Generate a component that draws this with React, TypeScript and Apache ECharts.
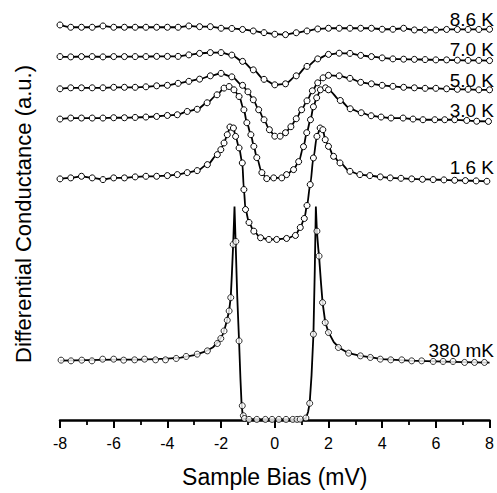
import React, { useEffect, useRef } from "react";
import * as echarts from "echarts";

const FONT = '"Liberation Sans", Arial, Helvetica, sans-serif';

// Bias grid (mV) used by the higher-temperature curves
const gridBias = [-8, -7.6, -7.2, -6.8, -6.4, -6, -5.6, -5.2, -4.8, -4.4, -4, -3.6, -3.2, -2.8, -2.4, -2, -1.6, -1.2, -0.8, -0.4, 0, 0.4, 0.8, 1.2, 1.6, 2, 2.4, 2.8, 3.2, 3.6, 4, 4.4, 4.8, 5.2, 5.6, 6, 6.4, 6.8, 7.2, 7.6, 8];

// Differential conductance (a.u., offset curves)
const cond86 = [396, 393.7, 393.7, 393.7, 395, 393.7, 393.7, 393.7, 393.7, 393.7, 393.7, 393.7, 395, 394.3, 394.3, 392.7, 392.5, 391.5, 390, 388.3, 386.7, 386.3, 388.2, 390, 392, 392.7, 392.7, 392.7, 392.7, 392.7, 391.7, 391.7, 392.7, 391, 391, 391, 391.5, 391.5, 391.5, 391.5, 391.7];
const cond70 = [364.3, 364, 364.3, 364.3, 364, 364.3, 364.3, 364.3, 364.3, 364.5, 364.5, 364.5, 366, 367.5, 368.3, 368.3, 365.8, 359.5, 351, 341.5, 336, 337, 345, 354.5, 362, 366.5, 367.7, 367.5, 365.5, 364.3, 363, 362, 361.7, 361.5, 361.3, 361, 361, 360.7, 360.5, 360.5, 360.3];

const bias50 = [-8, -7.6, -7.2, -6.8, -6.4, -6, -5.6, -5.2, -4.8, -4.4, -4, -3.6, -3.2, -2.8, -2.4, -2, -1.6, -1.2, -1, -0.8, -0.6, -0.4, -0.2, 0, 0.2, 0.4, 0.6, 0.8, 1, 1.2, 1.4, 1.6, 1.8, 2, 2.4, 2.8, 3.2, 3.6, 4, 4.4, 4.8, 5.2, 5.6, 6, 6.4, 6.8, 7.2, 7.6, 8];
const cond50 = [332, 333, 333, 333, 333, 333.5, 333.5, 333.5, 334, 335, 335.5, 337.5, 339.5, 341.7, 345, 347.5, 344, 335.5, 329, 321, 311, 301, 291, 284.5, 284.5, 288, 294, 302, 311, 320, 330, 338, 343, 345.5, 345, 342.5, 338.5, 337, 335.5, 334.5, 333.5, 333, 332.5, 332.5, 332, 331.5, 331.5, 331, 331];

const bias30 = [-8, -7.6, -7.2, -6.8, -6.4, -6, -5.6, -5.2, -4.8, -4.4, -4, -3.63, -3.26, -2.89, -2.52, -2.15, -1.89, -1.7, -1.52, -1.33, -1.15, -1.04, -0.89, -0.78, -0.67, -0.48, -0.3, -0.04, 0.26, 0.44, 0.7, 0.89, 1.07, 1.19, 1.33, 1.44, 1.56, 1.7, 1.89, 2, 2.44, 2.81, 3.22, 3.59, 3.96, 4.33, 4.78, 5.15, 5.52, 5.96, 6.33, 6.7, 7.15, 7.52, 7.96];
const cond30 = [301.7, 302.7, 302.7, 302.7, 302.7, 303, 303, 303.3, 303.7, 304.3, 305.3, 306, 309.3, 311.5, 318, 326, 332.7, 334.3, 331, 324.3, 311, 298, 286, 274.3, 263, 248, 242, 242.7, 242.7, 246, 251, 259, 274, 288, 301, 314, 323, 331, 333, 331, 320.3, 312, 308, 305, 303.7, 302.7, 302.7, 301.7, 301, 301, 301, 301, 300.3, 299.5, 299.3];

const bias16 = [-8, -7.6, -7.2, -6.8, -6.4, -6, -5.6, -5.2, -4.8, -4.4, -4, -3.63, -3.26, -2.89, -2.51, -2.14, -2.01, -1.89, -1.77, -1.67, -1.54, -1.46, -1.33, -1.21, -1.15, -1.09, -0.96, -0.78, -0.53, -0.22, 0.07, 0.44, 0.77, 0.95, 1.1, 1.2, 1.32, 1.44, 1.57, 1.69, 1.79, 1.88, 2, 2.19, 2.43, 2.8, 3.17, 3.54, 3.93, 4.3, 4.7, 5.1, 5.5, 5.9, 6.3, 6.7, 7.1, 7.5, 7.9];
const cond16 = [241.7, 242.7, 244.3, 242.7, 241, 242.7, 242.7, 243.7, 244.3, 244.3, 245, 246, 248, 250, 256, 266, 271, 277.7, 286, 293.7, 292.7, 284.3, 272.7, 257.7, 231, 211, 198, 189.3, 182.7, 181, 181, 182, 185, 193, 202, 215, 236, 262.7, 284.3, 292.7, 291, 281, 274.3, 264.3, 257.7, 249.3, 246, 245, 243.7, 242.7, 242.3, 241.7, 241.3, 241, 240.7, 240.3, 240, 239.7, 239.3];

// 380 mK: measured points
const bias038 = [-7.96, -7.59, -7.19, -6.81, -6.41, -6, -5.63, -5.22, -4.85, -4.44, -4.07, -3.67, -3.3, -2.89, -2.51, -2.14, -2.01, -1.89, -1.77, -1.7, -1.64, -1.55, -1.45, -1.33, -1.21, -1.17, -1.13, -0.96, -0.67, -0.35, -0.1, 0.15, 0.42, 0.67, 0.83, 0.95, 1.16, 1.3, 1.44, 1.57, 1.65, 1.78, 1.88, 2, 2.37, 2.75, 3.19, 3.56, 3.93, 4.32, 4.73, 5.1, 5.47, 5.9, 6.27, 6.64, 7.07, 7.44, 7.81];
const cond038 = [60, 59.3, 60, 59.3, 61, 61, 60, 60.3, 61, 60.3, 60.3, 61.7, 63.7, 66, 69.3, 76.7, 81.7, 89.3, 100, 109.3, 122.7, 176, 179, 79.3, 14.3, 4.3, 1.5, 0.6, 0.6, 0.6, 0.6, 0.6, 0.6, 0.6, 0.6, 0.8, 2, 16.7, 86, 189.3, 164.3, 117.7, 97.7, 87.7, 72.7, 67, 64.3, 62.7, 61, 60.3, 60.3, 59.3, 59.3, 58.7, 58.7, 58.7, 57.7, 57.7, 57.7];
// 380 mK: fitted curve
const fitBias038 = [-8, -7, -6, -5, -4, -3.5, -3, -2.6, -2.3, -2.1, -1.95, -1.85, -1.77, -1.7, -1.64, -1.6, -1.55, -1.5, -1.46, -1.4, -1.33, -1.28, -1.24, -1.2, -1.15, -1.05, 0, 1.05, 1.16, 1.24, 1.3, 1.37, 1.44, 1.49, 1.53, 1.57, 1.62, 1.65, 1.72, 1.78, 1.88, 2, 2.2, 2.4, 2.75, 3.2, 3.6, 4, 5, 6, 7, 8];
const fitCond038 = [59.5, 60, 60.5, 60.5, 61.5, 62.5, 65, 68.5, 73, 78.5, 85, 93, 101, 110, 123, 145, 176, 214, 180, 125, 79, 42, 18, 6, 2, 0.8, 0.6, 0.8, 2, 8, 17, 45, 86, 150, 214, 189, 172, 164, 138, 118, 98, 88, 78, 72.5, 67, 64.3, 62.7, 61, 59.5, 58.7, 58, 57.5];

const curveNames = ["8.6 K", "7.0 K", "5.0 K", "3.0 K", "1.6 K", "380 mK"];
// label anchor layout (right edge x, centre y), in pixels
const labelLayout = [
  [494, 19],
  [494, 49.5],
  [494, 80],
  [494, 110],
  [494, 167.5],
  [494, 350],
];

const pair = (b: number[], c: number[]) => b.map((x, i) => [x, c[i]]);

const markerStyle = { color: "#fff", borderColor: "#000", borderWidth: 1 };
const lineStyle = { color: "#000", width: 1.8 };

function curveSeries(name: string, b: number[], c: number[]) {
  return {
    name,
    type: "line",
    data: pair(b, c),
    smooth: 0.3,
    smoothMonotone: "x",
    symbol: "circle",
    symbolSize: 6,
    showAllSymbol: true,
    itemStyle: markerStyle,
    lineStyle,
    clip: false,
    z: 2,
  };
}

export default function App() {
  const ref = useRef<HTMLDivElement>(null);
  useEffect(() => {
    if (!ref.current) return;
    const chart = echarts.init(ref.current, undefined, { renderer: "svg" });
    const option: any = {
      animation: false,
      backgroundColor: "#fff",
      textStyle: { fontFamily: FONT },
      grid: { left: 60, right: 5, top: 10, bottom: 72, containLabel: false },
      xAxis: {
        type: "value",
        min: -8,
        max: 8,
        interval: 2,
        name: "Sample Bias (mV)",
        nameLocation: "middle",
        nameGap: 45,
        nameTextStyle: { fontSize: 23, color: "#000", fontFamily: FONT },
        axisLine: { show: true, onZero: false, lineStyle: { color: "#000", width: 2.5 } },
        axisTick: { show: true, inside: false, length: 8, lineStyle: { color: "#000", width: 2 } },
        minorTick: { show: true, splitNumber: 2, length: 5, lineStyle: { color: "#000", width: 1.8 } },
        axisLabel: { fontSize: 16, color: "#000", margin: 15, fontFamily: FONT },
        splitLine: { show: false },
      },
      yAxis: { type: "value", min: 0, max: 411, show: false },
      graphic: [
        ...curveNames.map((t, i) => ({
          type: "text",
          x: labelLayout[i][0],
          y: labelLayout[i][1],
          style: {
            text: t,
            fontSize: 19,
            fontFamily: FONT,
            fill: "#000",
            align: "right",
            verticalAlign: "middle",
          },
        })),
        {
          type: "text",
          x: 23,
          y: 214,
          rotation: Math.PI / 2,
          style: {
            text: "Differential Conductance (a.u.)",
            fontSize: 22,
            fontFamily: FONT,
            fill: "#000",
            align: "center",
            verticalAlign: "middle",
          },
        },
      ],
      series: [
        curveSeries(curveNames[0], gridBias, cond86),
        curveSeries(curveNames[1], gridBias, cond70),
        curveSeries(curveNames[2], bias50, cond50),
        curveSeries(curveNames[3], bias30, cond30),
        curveSeries(curveNames[4], bias16, cond16),
        {
          name: curveNames[5] + " fit",
          type: "line",
          data: pair(fitBias038, fitCond038),
          symbol: "none",
          smooth: false,
          lineStyle: { color: "#000", width: 1.8, join: "miter" },
          clip: false,
          z: 2,
        },
        {
          name: curveNames[5],
          type: "scatter",
          data: pair(bias038, cond038),
          symbol: "circle",
          symbolSize: 6,
          itemStyle: markerStyle,
          clip: false,
          z: 3,
        },
      ],
    };
    chart.setOption(option);
    return () => chart.dispose();
  }, []);
  return (
    <div
      ref={ref}
      style={{ position: "fixed", left: 0, top: 0, width: 497, height: 493, background: "#fff" }}
    />
  );
}
